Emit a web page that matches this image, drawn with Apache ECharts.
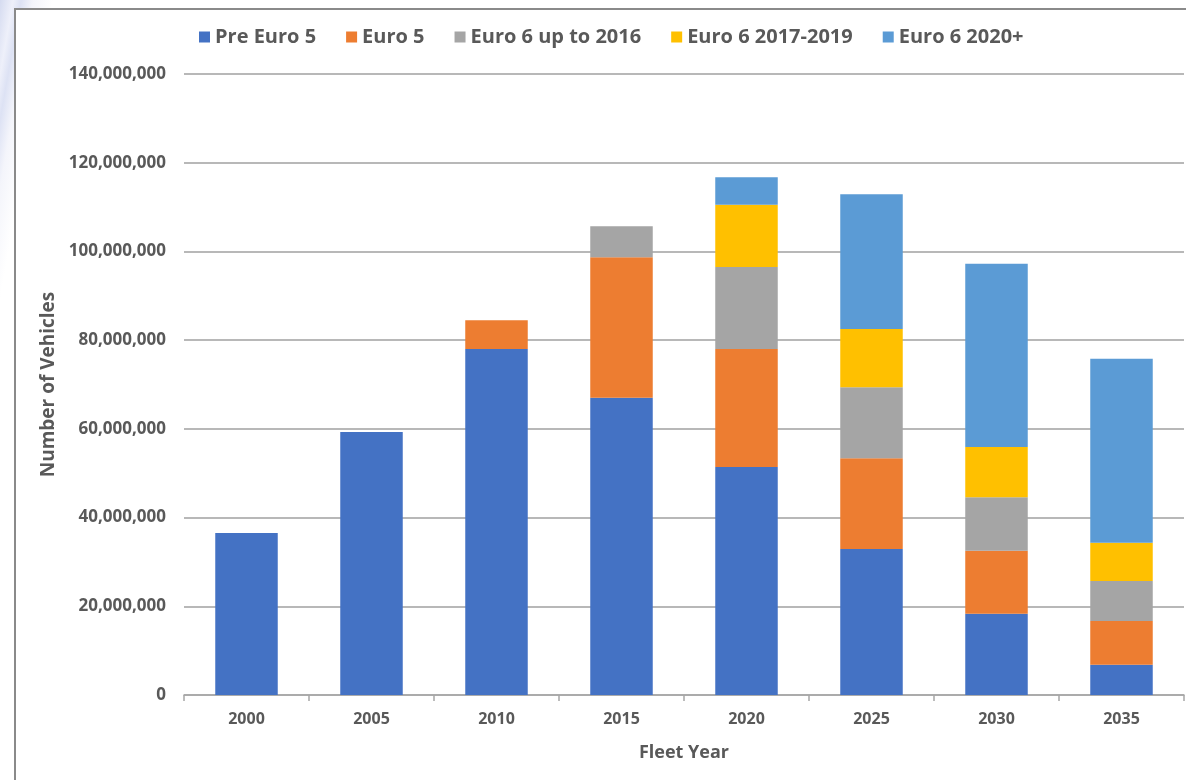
<!DOCTYPE html>
<html>
<head>
<meta charset="utf-8">
<script src="https://cdn.jsdelivr.net/npm/echarts@6/dist/echarts.min.js"></script>
<style>
  html, body { margin: 0; padding: 0; width: 1186px; height: 780px; overflow: hidden; }
  body { background: linear-gradient(100deg, #d5dbf0 0%, #eef0fa 1%, #dde2f4 1.6%, #f4f5fb 2.5%, #ffffff 4%); }
  #box { position: absolute; left: 14px; top: 8px; width: 1180px; height: 780px; background: #fff; border-left: 2px solid #8a8a8a; border-top: 2px solid #8a8a8a; }
  #chart { position: absolute; left: 0; top: 0; width: 1186px; height: 780px; }
</style>
</head>
<body>
<div id="box"></div>
<div id="chart"></div>
<script>
const categories = ['2000', '2005', '2010', '2015', '2020', '2025', '2030', '2035'];
const seriesNames = ['Pre Euro 5', 'Euro 5', 'Euro 6 up to 2016', 'Euro 6 2017-2019', 'Euro 6 2020+'];
const preEuro5   = [36500000, 59300000, 78000000, 67000000, 51400000, 32900000, 18300000, 6800000];
const euro5      = [0, 0, 6500000, 31700000, 26600000, 20500000, 14200000, 9900000];
const euro6to2016 = [0, 0, 0, 7000000, 18500000, 16000000, 12100000, 9000000];
const euro6_2017_2019 = [0, 0, 0, 0, 14000000, 13100000, 11300000, 8600000];
const euro6_2020plus  = [0, 0, 0, 0, 6200000, 30400000, 41300000, 41500000];
const seriesValues = [preEuro5, euro5, euro6to2016, euro6_2017_2019, euro6_2020plus];
const colors = ['#4472C4', '#ED7D31', '#A5A5A5', '#FFC000', '#5B9BD5'];

const textColor = '#595959';
const font = 'Open Sans';

const chart = echarts.init(document.getElementById('chart'), null, { renderer: 'canvas' });
chart.setOption({
  animation: false,
  color: colors,
  textStyle: { fontFamily: font },
  legend: {
    top: 22,
    left: 194,
    itemWidth: 11,
    itemHeight: 11,
    itemGap: 30,
    icon: 'rect',
    textStyle: { color: textColor, fontSize: 20, fontWeight: 'bold', fontFamily: font, padding: [0, 0, 0, 0] },
    data: seriesNames
  },
  grid: { left: 184, right: 2, top: 74, bottom: 85, containLabel: false },
  xAxis: {
    type: 'category',
    data: categories,
    boundaryGap: true,
    name: 'Fleet Year',
    nameLocation: 'middle',
    nameGap: 49,
    nameTextStyle: { color: textColor, fontSize: 18, fontWeight: 'bold', fontFamily: font },
    axisLine: { show: true, lineStyle: { color: '#a6a6a6', width: 1.5 } },
    axisTick: { show: true, alignWithLabel: false, length: 6, lineStyle: { color: '#a6a6a6', width: 1.5 } },
    axisLabel: { color: textColor, fontSize: 16, fontWeight: 'bold', fontFamily: font, margin: 16 }
  },
  yAxis: {
    type: 'value',
    min: 0,
    max: 140000000,
    interval: 20000000,
    name: 'Number of Vehicles',
    nameLocation: 'middle',
    nameGap: 123,
    nameTextStyle: { color: textColor, fontSize: 19, fontWeight: 'bold', fontFamily: font },
    axisLine: { show: false },
    axisTick: { show: false },
    splitLine: { show: true, lineStyle: { color: '#a0a0a0', width: 1.5 } },
    axisLabel: {
      color: textColor, fontSize: 17, fontWeight: 'bold', fontFamily: font, margin: 18,
      formatter: v => v.toLocaleString('en-US')
    }
  },
  series: seriesNames.map((name, i) => ({
    name: name,
    type: 'bar',
    stack: 'total',
    barWidth: '50%',
    data: seriesValues[i],
    itemStyle: { color: colors[i] }
  }))
});
</script>
</body>
</html>
